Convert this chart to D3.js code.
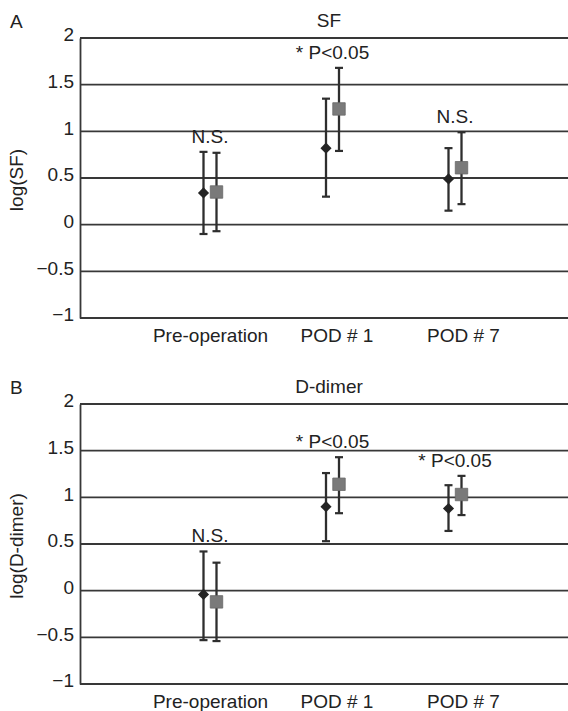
<!DOCTYPE html>
<html>
<head>
<meta charset="utf-8">
<script src="https://cdn.jsdelivr.net/npm/d3@7"></script>
<style>
  body { margin: 0; background: #fff; }
  svg { display: block; font-family: "Liberation Sans", Arial, sans-serif; }
</style>
</head>
<body>
<div id="chart"></div>
<script>
// categories and tick values
const categories = ['Pre-operation', 'POD # 1', 'POD # 7'];
const yTicks = [-1, -0.5, 0, 0.5, 1, 1.5, 2];

// SF panel (diamond group / square group): mean, lower and upper error bar ends
const sfDiamondMean = [0.34, 0.82, 0.49];
const sfDiamondLow  = [-0.10, 0.30, 0.15];
const sfDiamondHigh = [0.78, 1.35, 0.82];
const sfSquareMean  = [0.35, 1.24, 0.61];
const sfSquareLow   = [-0.07, 0.79, 0.22];
const sfSquareHigh  = [0.77, 1.68, 0.99];
const sfNotes = ['N.S.', '* P<0.05', 'N.S.'];

// D-dimer panel
const ddDiamondMean = [-0.04, 0.90, 0.88];
const ddDiamondLow  = [-0.53, 0.53, 0.64];
const ddDiamondHigh = [0.42, 1.26, 1.13];
const ddSquareMean  = [-0.12, 1.14, 1.03];
const ddSquareLow   = [-0.54, 0.83, 0.81];
const ddSquareHigh  = [0.30, 1.43, 1.23];
const ddNotes = ['N.S.', '* P<0.05', '* P<0.05'];

const width = 568;
const height = 711;
const left = 80;
const right = 578;   // plot runs a little past the picture edge
const fontSize = 19;

const svg = d3.select('#chart')
    .append('svg')
    .attr('width', width)
    .attr('height', height);

// markers and tick labels sit on slightly different spacings in the original
const x = d3.scalePoint().domain(categories).range([210, 455]);
const xLabel = d3.scalePoint().domain(categories).range([210, 463]);
const offset = 6.5;

function drawPanel(opts) {
    const y = d3.scaleLinear().domain([-1, 2]).range([opts.bottom, opts.top]);
    const g = svg.append('g');

    // panel letter and title
    g.append('text')
        .attr('x', 10)
        .attr('y', opts.top - 10)
        .attr('font-size', fontSize)
        .attr('fill', '#222')
        .text(opts.letter);

    g.append('text')
        .attr('x', (left + right) / 2)
        .attr('y', opts.top - 11)
        .attr('text-anchor', 'middle')
        .attr('font-size', fontSize)
        .attr('fill', '#222')
        .text(opts.title);

    // horizontal gridlines
    g.selectAll('.grid')
        .data(yTicks)
        .enter()
        .append('line')
        .attr('x1', left)
        .attr('x2', right)
        .attr('y1', d => y(d))
        .attr('y2', d => y(d))
        .attr('stroke', '#383838')
        .attr('stroke-width', 1.8);

    // y axis
    const yAxis = d3.axisLeft(y)
        .tickValues(yTicks)
        .tickSize(0)
        .tickPadding(6)
        .tickFormat(d3.format('~g'));

    const ya = g.append('g')
        .attr('transform', `translate(${left},0)`)
        .call(yAxis);
    ya.select('.domain').attr('stroke', '#383838').attr('stroke-width', 1.8);
    ya.selectAll('text')
        .attr('font-size', fontSize)
        .attr('font-family', '"Liberation Sans", Arial, sans-serif')
        .attr('fill', '#222')
        .attr('dy', '0.14em');

    // y axis title
    g.append('text')
        .attr('transform', `translate(23,${(opts.top + opts.bottom) / 2 + 2}) rotate(-90)`)
        .attr('text-anchor', 'middle')
        .attr('font-size', fontSize)
        .attr('fill', '#222')
        .text(opts.yTitle);

    // category axis labels
    const xAxis = d3.axisBottom(xLabel).tickSize(0).tickPadding(11);
    const xa = g.append('g')
        .attr('transform', `translate(0,${opts.bottom})`)
        .call(xAxis);
    xa.select('.domain').remove();
    xa.selectAll('text')
        .attr('font-size', fontSize)
        .attr('font-family', '"Liberation Sans", Arial, sans-serif')
        .attr('fill', '#222');

    // error bars and markers for both groups
    const groups = [
        { mean: opts.diamondMean, low: opts.diamondLow, high: opts.diamondHigh, dx: -offset, shape: 'diamond' },
        { mean: opts.squareMean, low: opts.squareLow, high: opts.squareHigh, dx: offset, shape: 'square' }
    ];

    groups.forEach(grp => {
        const rows = categories.map((c, i) => ({ c: c, m: grp.mean[i], lo: grp.low[i], hi: grp.high[i] }));
        const s = g.append('g');

        s.selectAll('.bar')
            .data(rows)
            .enter()
            .append('line')
            .attr('x1', d => x(d.c) + grp.dx)
            .attr('x2', d => x(d.c) + grp.dx)
            .attr('y1', d => y(d.lo))
            .attr('y2', d => y(d.hi))
            .attr('stroke', '#2e2e2e')
            .attr('stroke-width', 2.3);

        ['lo', 'hi'].forEach(k => {
            s.selectAll('.cap-' + k)
                .data(rows)
                .enter()
                .append('line')
                .attr('x1', d => x(d.c) + grp.dx - 4)
                .attr('x2', d => x(d.c) + grp.dx + 4)
                .attr('y1', d => y(d[k]))
                .attr('y2', d => y(d[k]))
                .attr('stroke', '#2e2e2e')
                .attr('stroke-width', 2.2);
        });

        if (grp.shape === 'diamond') {
            s.selectAll('.mark')
                .data(rows)
                .enter()
                .append('path')
                .attr('d', d3.symbol(d3.symbolSquare, 62))
                .attr('transform', d => `translate(${x(d.c) + grp.dx},${y(d.m)}) rotate(45)`)
                .attr('fill', '#242424');
        } else {
            s.selectAll('.mark')
                .data(rows)
                .enter()
                .append('path')
                .attr('d', d3.symbol(d3.symbolSquare, 155))
                .attr('transform', d => `translate(${x(d.c) + grp.dx},${y(d.m)})`)
                .attr('fill', '#7a7a7a')
                .attr('stroke', '#686868')
                .attr('stroke-width', 0.8);
        }
    });

    // significance notes above the highest error bar
    g.selectAll('.note')
        .data(categories)
        .enter()
        .append('text')
        .attr('x', d => x(d))
        .attr('y', (d, i) => y(Math.max(opts.diamondHigh[i], opts.squareHigh[i])) - 9)
        .attr('text-anchor', 'middle')
        .attr('font-size', fontSize)
        .attr('fill', '#222')
        .text((d, i) => opts.notes[i]);
}

drawPanel({
    letter: 'A', title: 'SF', yTitle: 'log(SF)', top: 38, bottom: 318,
    diamondMean: sfDiamondMean, diamondLow: sfDiamondLow, diamondHigh: sfDiamondHigh,
    squareMean: sfSquareMean, squareLow: sfSquareLow, squareHigh: sfSquareHigh,
    notes: sfNotes
});

drawPanel({
    letter: 'B', title: 'D-dimer', yTitle: 'log(D-dimer)', top: 404, bottom: 684,
    diamondMean: ddDiamondMean, diamondLow: ddDiamondLow, diamondHigh: ddDiamondHigh,
    squareMean: ddSquareMean, squareLow: ddSquareLow, squareHigh: ddSquareHigh,
    notes: ddNotes
});
</script>
</body>
</html>
